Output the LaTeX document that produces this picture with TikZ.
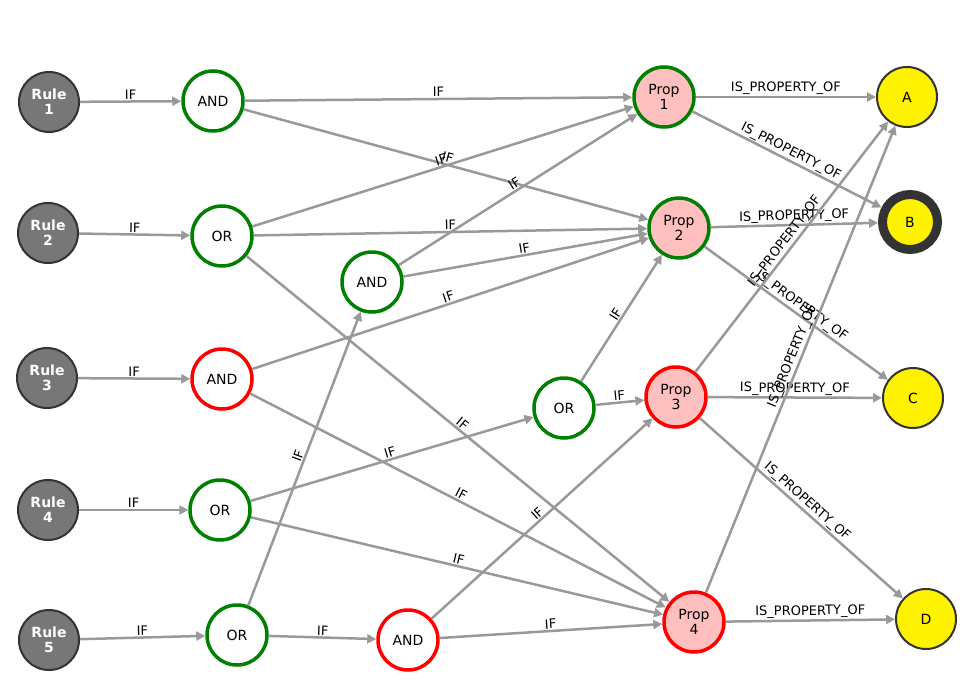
\documentclass[tikz,border=0pt]{standalone}
\usepackage{fontspec}
\setmainfont{DejaVu Sans}
\usetikzlibrary{arrows.meta}
\definecolor{rulegray}{HTML}{777777}
\begin{document}
\begin{tikzpicture}[x=1pt,y=-1pt,
 base/.style={circle,minimum size=60pt,inner sep=0pt,align=center,font=\fontsize{14}{15}\selectfont},
 rule/.style={base,fill=rulegray,draw=gray!40!black,line width=2pt,text=white,font=\bfseries\fontsize{14}{15}\selectfont},
 gn/.style={base,fill=white,draw=green!50!black,line width=3.5pt},
 rn/.style={base,fill=white,draw=red,line width=3.5pt},
 pg/.style={base,fill=pink,draw=green!50!black,line width=3.5pt},
 pr/.style={base,fill=pink,draw=red,line width=3.5pt},
 yn/.style={base,fill=yellow,draw=gray!40!black,line width=2pt},
 e/.style={draw=gray!80,line width=2.5pt,-{Triangle[length=9pt,width=9pt]}},
 lb/.style={midway,sloped,above,inner sep=1pt,font=\fontsize{13}{14}\selectfont}]
\useasboundingbox (0,0) rectangle (976,698);
\node[rule] (r1) at (49,102) {Rule\\1};
\node[rule] (r2) at (48,233) {Rule\\2};
\node[rule] (r3) at (47,378) {Rule\\3};
\node[rule] (r4) at (48,510) {Rule\\4};
\node[rule] (r5) at (49,640) {Rule\\5};
\node[gn] (a1) at (213,101) {AND};
\node[gn] (o2) at (222,236) {OR};
\node[rn] (a3) at (222,379) {AND};
\node[gn] (o4) at (220,510) {OR};
\node[gn] (o5) at (237,635) {OR};
\node[gn] (am) at (372,282) {AND};
\node[gn] (om) at (564,408) {OR};
\node[rn] (ar) at (408,640) {AND};
\node[pg] (p1) at (664,97) {Prop\\1};
\node[pg] (p2) at (679,228) {Prop\\2};
\node[pr] (p3) at (676,397) {Prop\\3};
\node[pr] (p4) at (694,622) {Prop\\4};
\node[yn] (A) at (907,97) {A};
\node[yn,line width=9pt,minimum size=55pt] (B) at (910,222) {B};
\node[yn] (C) at (913,398) {C};
\node[yn] (D) at (926,619) {D};
\foreach \s/\t in {r1/a1,r2/o2,r3/a3,r4/o4,r5/o5,a1/p1,a1/p2,o2/p1,o2/p2,o2/p4,am/p1,am/p2,a3/p2,a3/p4,o4/om,o4/p4,o5/am,o5/ar,om/p2,om/p3,ar/p3,ar/p4}
  \draw[e] (\s) -- node[lb]{IF} (\t);
\foreach \s/\t in {p1/A,p1/B,p2/B,p2/C,p3/A,p3/C,p3/D,p4/A,p4/D}
  \draw[e] (\s) -- node[lb]{IS\_PROPERTY\_OF} (\t);
\end{tikzpicture}
\end{document}
